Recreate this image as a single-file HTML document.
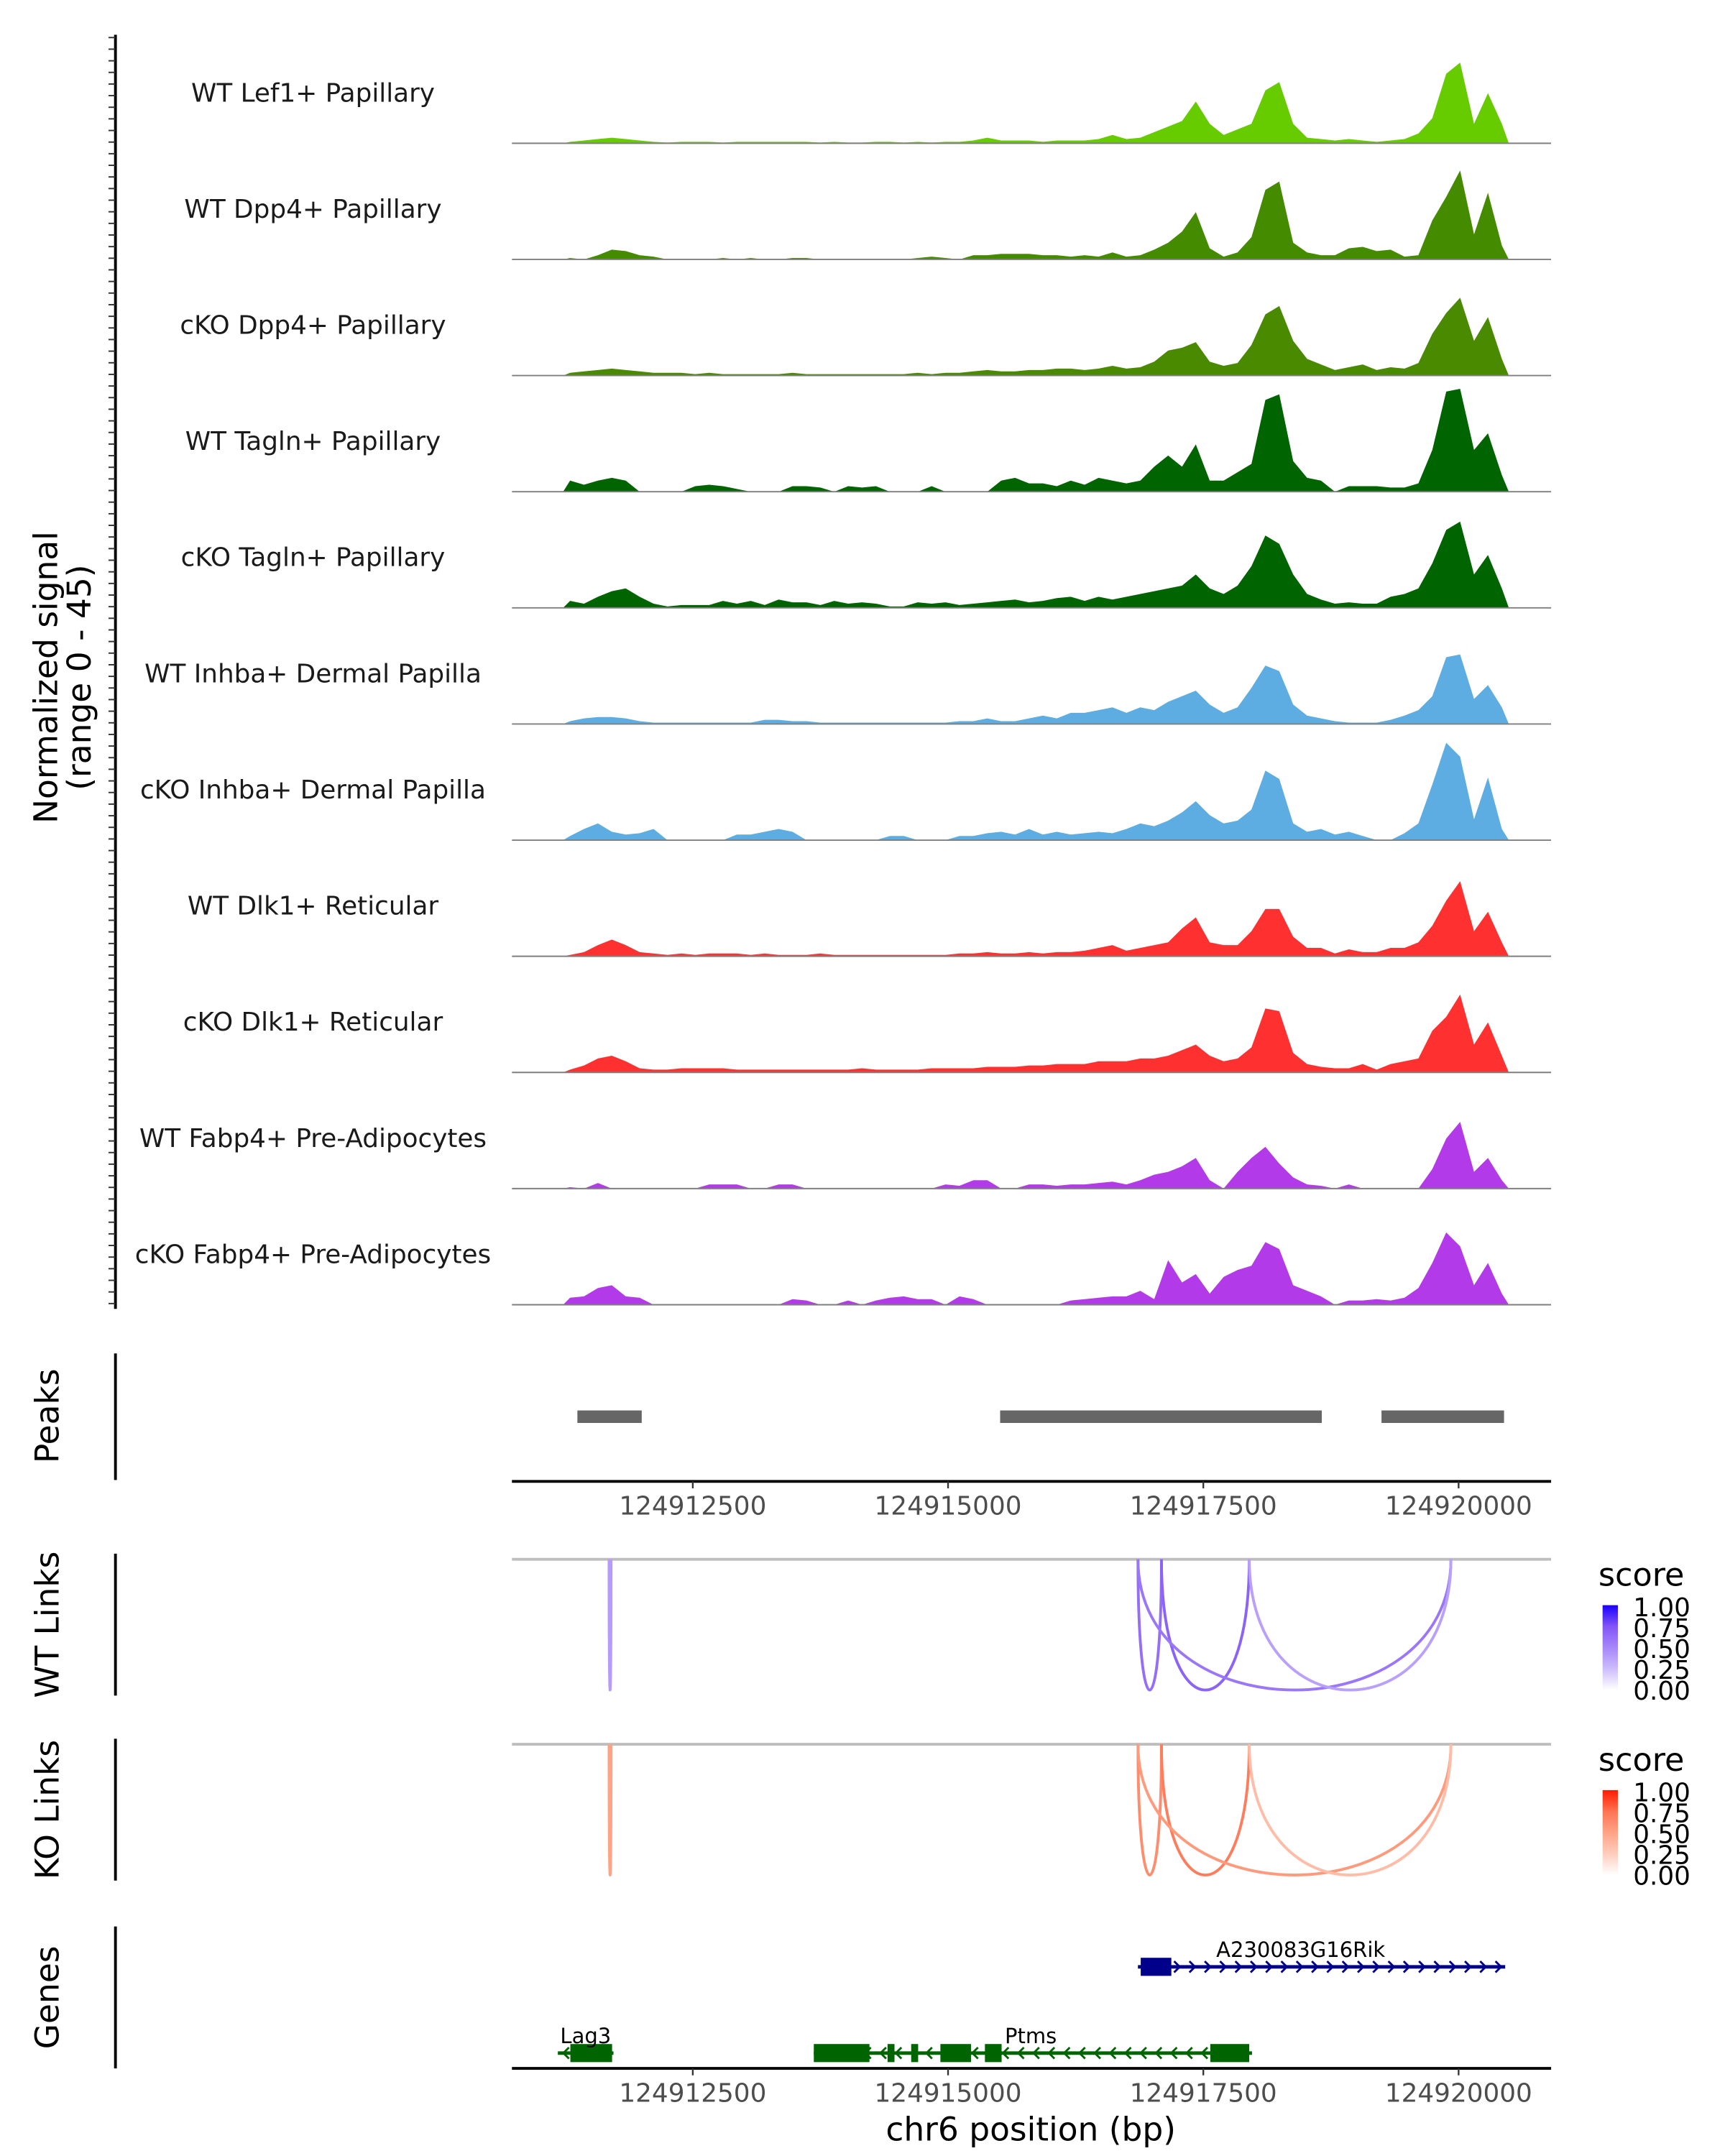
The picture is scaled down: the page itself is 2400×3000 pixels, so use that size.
<!DOCTYPE html>
<html><head><meta charset="utf-8">
<style>
html,body{margin:0;padding:0;background:#fff;}
svg{display:block;font-family:"DejaVu Sans","Liberation Sans",sans-serif;}
</style></head>
<body>
<svg id="fig" width="2400" height="3000" viewBox="0 0 1240 1550" xmlns="http://www.w3.org/2000/svg">
<rect width="1240" height="1550" fill="#fff"/>
<g id="tracks"></g>
<g id="peaks"></g>
<g id="links"></g>
<g id="genes"></g>
</svg>
<script>
// ---- data ----
const binStart = 124911230;
const binSize = 136.2;
const trackNames = ["WT Lef1+ Papillary","WT Dpp4+ Papillary","cKO Dpp4+ Papillary","WT Tagln+ Papillary","cKO Tagln+ Papillary","WT Inhba+ Dermal Papilla","cKO Inhba+ Dermal Papilla","WT Dlk1+ Reticular","cKO Dlk1+ Reticular","WT Fabp4+ Pre-Adipocytes","cKO Fabp4+ Pre-Adipocytes"];
const trackColors = ["#66cc00","#458b00","#4a8a00","#006400","#006400","#5dade2","#5dade2","#ff3030","#ff3030","#b23ae8","#b23ae8"];
const sigLef1WT = [1,2,3,4,3,2,1,0.5,1,1,1,0.5,1,1,1,1,1,1,0.5,1,0.5,0.5,1,1,0.5,1,0.5,1,1,2,4,2,2,2,1,2,2,2,3,6,3,4,8,12,16,30,14,6,10,14,38,44,14,4,3,2,3,2,1,2,3,7,18,50,58,14,36,14];
const sigDpp4WT = [1,0,3,7,6,3,2,0,0,0,0,1,0,1,0,0,1,1,0,0,0,0,0,0,0,1,2,1,0,3,3,4,4,4,3,3,2,3,2,5,2,3,7,12,20,34,8,2,5,16,50,56,12,5,3,3,8,9,6,7,2,3,28,45,64,18,48,10];
const sigDpp4KO = [2,3,4,5,4,3,2,2,2,1,2,1,1,1,1,1,2,1,1,1,1,1,1,1,1,2,1,2,2,3,4,3,3,4,4,5,5,4,5,7,5,6,10,18,20,24,10,7,9,22,44,50,25,12,8,4,6,8,4,6,5,9,30,45,56,25,42,12];
const sigTaglnWT = [8,5,8,10,8,0,0,0,0,4,5,4,2,0,0,0,4,4,3,0,4,3,4,0,0,0,4,0,0,0,0,8,10,6,6,4,8,5,10,8,6,8,18,26,18,34,8,8,14,20,66,70,22,10,8,0,4,4,4,3,3,6,30,72,74,30,42,12];
const sigTaglnKO = [5,3,8,12,14,8,3,1,2,2,2,5,3,5,2,6,4,4,2,5,3,4,3,1,1,4,3,4,2,3,4,5,6,4,5,7,8,5,8,6,8,10,12,14,16,24,14,10,16,30,52,46,24,10,6,3,4,3,3,8,10,14,32,56,62,24,38,14];
const sigInhbaWT = [2,4,5,5,4,2,1,1,1,1,1,1,1,1,3,3,2,2,1,1,1,1,1,1,1,1,1,1,2,2,4,2,2,4,6,4,8,8,10,12,8,12,10,16,20,24,14,8,12,26,42,38,14,6,4,2,1,1,1,3,6,10,20,48,50,18,28,12];
const sigInhbaKO = [3,8,12,6,4,5,8,0,0,0,0,0,4,4,6,8,6,0,0,0,0,0,0,3,3,0,0,0,3,3,5,6,4,8,4,6,4,5,6,5,8,12,10,14,20,28,18,12,14,22,50,44,12,6,8,4,6,3,0,0,5,12,40,70,60,15,45,8];
const sigDlk1WT = [1,3,8,12,8,3,2,1,2,1,2,2,2,1,2,1,1,1,2,1,1,1,1,1,1,1,1,1,2,2,3,2,2,3,2,3,3,4,6,8,4,6,8,10,20,28,10,8,8,18,34,34,14,6,6,2,5,3,3,6,6,10,22,40,54,18,32,10];
const sigDlk1KO = [2,5,10,12,8,3,2,2,3,3,3,3,2,2,2,2,2,2,2,2,2,3,2,2,2,2,3,3,3,3,4,4,4,5,5,6,6,6,8,8,8,10,10,12,16,20,12,8,10,18,46,44,14,6,4,3,3,6,2,6,8,10,30,40,56,20,36,12];
const sigFabp4WT = [1,0,4,0,0,0,0,0,0,0,3,3,3,0,0,3,3,0,0,0,0,0,0,0,0,0,0,3,2,6,6,0,0,3,3,2,3,3,4,5,3,6,10,12,16,22,6,0,12,22,30,18,8,3,2,0,3,0,0,0,0,0,14,36,48,12,22,6];
const sigFabp4KO = [5,6,12,14,6,5,0,0,0,0,0,0,0,0,0,0,4,3,0,0,3,0,3,5,6,4,4,0,6,4,0,0,0,0,0,0,3,4,5,6,6,10,4,32,16,22,8,20,25,28,45,40,14,10,6,0,3,3,4,3,5,12,30,52,42,14,30,8];
const trackSignals = [sigLef1WT,sigDpp4WT,sigDpp4KO,sigTaglnWT,sigTaglnKO,sigInhbaWT,sigInhbaKO,sigDlk1WT,sigDlk1KO,sigFabp4WT,sigFabp4KO];
const xTicks = [124912500,124915000,124917500,124920000];
const peakStarts = [124911370,124915510,124919245];
const peakEnds = [124912000,124918660,124920445];
const linkStarts = [124911680,124916860,124917090,124916860,124917950];
const linkEnds = [124911700,124917090,124917950,124919925,124919925];
const wtScores = [0.4,0.62,0.68,0.58,0.38];
const koScores = [0.5,0.62,0.7,0.55,0.35];
const legendTicks = ["1.00","0.75","0.50","0.25","0.00"];

// ---- scales ----
const X0 = 124912500, PX0 = 498, PXPERBP = 183.5/2500;
const xs = bp => PX0 + (bp - X0) * PXPERBP;
const yMax = 80;
const ys = (v, base) => base - v / yMax * 80;
const NS = "http://www.w3.org/2000/svg";
function mk(tag, attrs, parent, text){
  const e = document.createElementNS(NS, tag);
  for (const k in attrs) e.setAttribute(k, attrs[k]);
  if (text !== undefined) e.textContent = text;
  parent.appendChild(e); return e;
}
const tracks = document.getElementById('tracks');

let ax = mk('line',{x1:83,y1:25,x2:83,y2:941,stroke:'#000','stroke-width':2},tracks);
 
for (let y = 27; y <= 940; y += 8.35){
  const t = mk('line',{x1:78,y1:y,x2:83,y2:y,stroke:'#333','stroke-width':1},tracks);
   
}
let yt = mk('text',{x:0,y:0,'font-size':23.5,'text-anchor':'middle',transform:'translate(41,487) rotate(-90)'},tracks);
 
mk('tspan',{x:0,dy:0},yt,'Normalized signal');
mk('tspan',{x:0,dy:24},yt,'(range 0 - 45)');

trackNames.forEach((name, k) => {
  const base = 103 + k * 83.5;
  const g = mk('g',{},tracks);
  
  
  const sig = trackSignals[k];
  let d = 'M' + xs(binStart).toFixed(1) + ' ' + base;
  sig.forEach((v, i) => {
    const x = xs(binStart + (i + 0.5) * binSize);
    d += ' L' + x.toFixed(1) + ' ' + ys(v, base).toFixed(1);
  });
  d += ' L' + xs(binStart + sig.length * binSize).toFixed(1) + ' ' + base + ' Z';
  const a = mk('path',{d:d,fill:trackColors[k]},g);
   
  const bl = mk('line',{x1:368,y1:base,x2:1115,y2:base,stroke:'#7f7f7f','stroke-width':1},g);
   
  const lb = mk('text',{x:225,y:base-30,'font-size':18.5,'text-anchor':'middle',fill:'#1a1a1a'},g,name);
   
});

const peaks = document.getElementById('peaks');
let pa = mk('line',{x1:83,y1:973,x2:83,y2:1064,stroke:'#000','stroke-width':2},peaks);
 
let pt = mk('text',{x:0,y:0,'font-size':23.5,'text-anchor':'middle',transform:'translate(42,1018) rotate(-90)'},peaks,'Peaks');
 
peakStarts.forEach((s, i) => {
  const r = mk('rect',{x:xs(s),y:1014,width:xs(peakEnds[i])-xs(s),height:9,fill:'#666'},peaks);
   
});
function xAxis(parent, y){
  const l = mk('line',{x1:368,y1:y,x2:1115,y2:y,stroke:'#000','stroke-width':2},parent);
   
  xTicks.forEach(t => {
    const tk = mk('line',{x1:xs(t),y1:y,x2:xs(t),y2:y+5,stroke:'#333','stroke-width':1.2},parent);
     
    const tl = mk('text',{x:xs(t),y:y+24,'font-size':18.5,'text-anchor':'middle',fill:'#4d4d4d'},parent,String(t));
     
  });
}
xAxis(peaks, 1065);

const links = document.getElementById('links');
const wtStops = ['#ffffff','#cdbdfb','#a686f9','#8255f6','#1a00ff'];
const koStops = ['#ffffff','#ffcdbd','#ffa386','#ff7452','#ff1a00'];
function hex(c){return [1,3,5].map(i=>parseInt(c.substr(i,2),16));}
function colorAt(stops, s){
  const p = s * (stops.length-1), i = Math.min(Math.floor(p), stops.length-2), f = p - i;
  const a = hex(stops[i]), b = hex(stops[i+1]);
  return 'rgb(' + a.map((v,j)=>Math.round(v+(b[j]-v)*f)).join(',') + ')';
}
function linkPanel(top, title, scores, stops, nm){
  const g = mk('g',{},links);
   
  const y0 = top + 4, depth = 94;
  const a = mk('line',{x1:83,y1:top,x2:83,y2:top+102,stroke:'#000','stroke-width':2},g);
   
  const t = mk('text',{x:0,y:0,'font-size':23.5,'text-anchor':'middle',transform:'translate(42,' + (top+51) + ') rotate(-90)'},g,title);
   
  const bl = mk('line',{x1:368,y1:y0,x2:1115,y2:y0,stroke:'#bebebe','stroke-width':2},g);
   
  linkStarts.forEach((s, i) => {
    const x1 = xs(s), x2 = xs(linkEnds[i]), cy = y0 + depth/0.75;
    const p = mk('path',{d:`M${x1} ${y0} C${x1} ${cy} ${x2} ${cy} ${x2} ${y0}`,fill:'none',stroke:colorAt(stops,scores[i]),'stroke-width':2},g);
     
  });
  const lg = mk('g',{},g);
   
  const lt = mk('text',{x:1149,y:top+23,'font-size':23},lg,'score');
   
  const gid = 'grad-' + nm;
  const defs = mk('defs',{},lg);
  const gr = mk('linearGradient',{id:gid,x1:0,y1:1,x2:0,y2:0},defs);
  stops.forEach((c,i)=>mk('stop',{offset:i/(stops.length-1),'stop-color':c},gr));
  const bar = mk('rect',{x:1152,y:top+37,width:11,height:61,fill:'url(#'+gid+')'},lg);
   
  legendTicks.forEach((l,i)=>{
    const ty = top + 38 + i*15;
    const tx = mk('text',{x:1174,y:ty+7,'font-size':18.5},lg,l);
     
  });
}
linkPanel(1117,'WT Links',wtScores,wtStops,'wt');
linkPanel(1250,'KO Links',koScores,koStops,'ko');

const genes = document.getElementById('genes');
let ga = mk('line',{x1:83,y1:1385,x2:83,y2:1487,stroke:'#000','stroke-width':2},genes);
 
let gt = mk('text',{x:0,y:0,'font-size':23.5,'text-anchor':'middle',transform:'translate(42,1436) rotate(-90)'},genes,'Genes');
 
function gene(nm, x1, x2, y, color, exons, dir, label, lx){
  const g = mk('g',{},genes);
   
  mk('line',{x1:x1,y1:y,x2:x2,y2:y,stroke:color,'stroke-width':2.5},g);
  for (let x = x1 + 6; x < x2 - 2; x += 11){
    const s = dir > 0 ? `M${x-2} ${y-4} L${x+2} ${y} L${x-2} ${y+4}` : `M${x+2} ${y-4} L${x-2} ${y} L${x+2} ${y+4}`;
    mk('path',{d:s,fill:'none',stroke:color,'stroke-width':1.5},g);
  }
  exons.forEach(e => mk('rect',{x:e[0],y:y-6.5,width:e[1]-e[0],height:13,fill:color},g));
  const t = mk('text',{x:lx,y:y-7,'font-size':15,'text-anchor':'middle'},g,label);
   
}
gene('a230083g16rik',818,1082,1414,'#00008b',[[820,842]],1,'A230083G16Rik',935);
gene('lag3',401,441,1476,'#006400',[[410,440]],-1,'Lag3',421);
gene('ptms',585,900,1476,'#006400',[[585,625],[638,643],[655,660],[676,698],[708,720],[870,898]],-1,'Ptms',741);
xAxis(genes,1487);
let xt = mk('text',{x:741,y:1539,'font-size':23.5,'text-anchor':'middle'},genes,'chr6 position (bp)');
 
</script>
</body></html>
